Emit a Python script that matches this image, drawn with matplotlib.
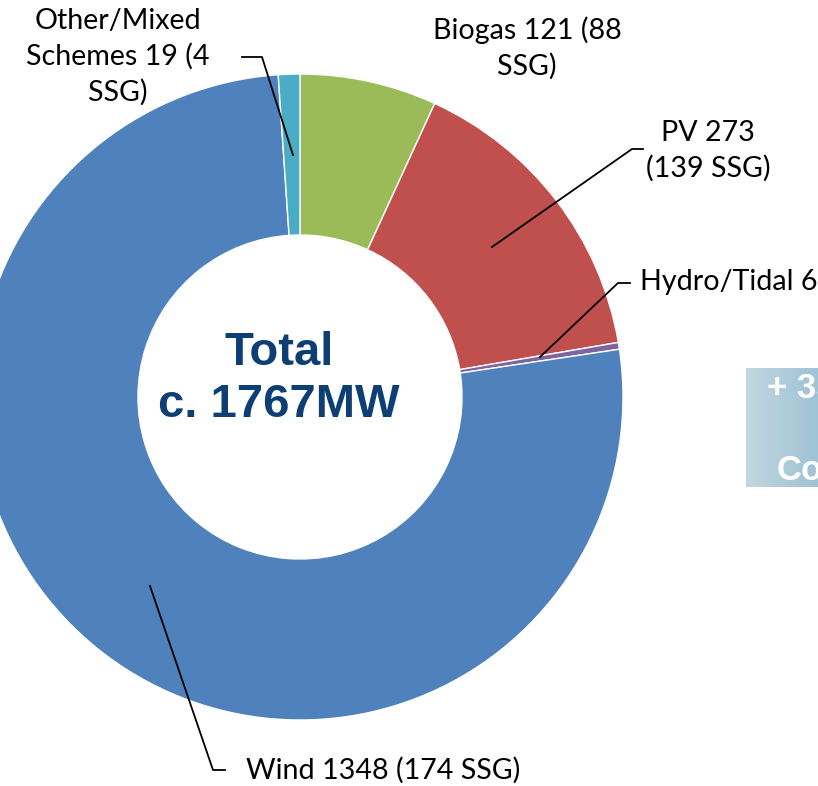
import matplotlib
matplotlib.use("Agg")
import matplotlib.pyplot as plt
import numpy as np

# ---- data ----
categories = ["Biogas", "PV", "Hydro/Tidal", "Wind", "Other/Mixed Schemes"]
values_mw = [121, 273, 6, 1348, 19]
ssg_counts = [88, 139, None, 174, 4]
colors = ["#9BBB59", "#C0504D", "#8064A2", "#4F81BD", "#4BACC6"]
label_texts = ["Biogas 121 (88\nSSG)", "PV 273\n(139 SSG)", "Hydro/Tidal 6",
               "Wind 1348 (174 SSG)", "Other/Mixed\nSchemes 19 (4\nSSG)"]
center_text = "Total\nc. 1767MW"

W, H = 818, 786
fig = plt.figure(figsize=(W / 100, H / 100), dpi=100)
ax = fig.add_axes([0, 0, 1, 1])

def Y(y):
    return H - y

cx, cy, R, r_in = 300, 397, 323, 162
ax.pie(values_mw, colors=colors, startangle=90, counterclock=False,
       radius=R, center=(cx, Y(cy)),
       wedgeprops=dict(width=R - r_in, edgecolor="white", linewidth=1))
ax.set_xlim(0, W)
ax.set_ylim(0, H)
ax.set_aspect("equal")
ax.axis("off")

lab_font = dict(family=["Lato", "DejaVu Sans"], fontsize=20.6, color="black")
ls = 1.42

# labels with leader lines
ax.text(118, Y(57), label_texts[4], ha="center", va="center", linespacing=ls, **lab_font)
ax.plot([242, 262, 293], [Y(57), Y(57), Y(155)], color="black", lw=1.3)

ax.text(527, Y(48), label_texts[0], ha="center", va="center", linespacing=ls, **lab_font)

ax.text(708, Y(151), label_texts[1], ha="center", va="center", linespacing=ls, **lab_font)
ax.plot([492, 632, 643], [Y(247), Y(149), Y(149)], color="black", lw=1.3)

ax.text(640, Y(282), label_texts[2], ha="left", va="center", **lab_font)
ax.plot([540, 618, 630], [Y(357), Y(283), Y(283)], color="black", lw=1.3)

ax.text(246, Y(770), label_texts[3], ha="left", va="center", **lab_font)
ax.plot([150, 213, 225], [Y(586), Y(770), Y(770)], color="black", lw=1.3)

# center text
ax.text(279, Y(379), center_text, ha="center", va="center", fontsize=34,
        fontweight="bold", color="#0D3F75", family=["Liberation Sans", "DejaVu Sans"],
        linespacing=1.22)

# gradient box on right (partially out of frame, as in the reference)
grad = np.linspace(0, 1, 256)
c0 = np.array([193, 215, 223]) / 255
c1 = np.array([130, 176, 204]) / 255
img = (c0[None, :] * (1 - grad[:, None]) + c1[None, :] * grad[:, None])[None, :, :]
ax.imshow(img, extent=(746, 880, Y(487), Y(368)), aspect="auto", zorder=1)
ax.set_xlim(0, W)
ax.set_ylim(0, H)
ax.text(767, Y(388), "+ 35", ha="left", va="center", fontsize=25, fontweight="bold",
        color="white", family=["Liberation Sans", "DejaVu Sans"], zorder=2)
ax.text(777, Y(470), "Co", ha="left", va="center", fontsize=25, fontweight="bold",
        color="white", family=["Liberation Sans", "DejaVu Sans"], zorder=2)

fig.savefig("out.png", dpi=100)
